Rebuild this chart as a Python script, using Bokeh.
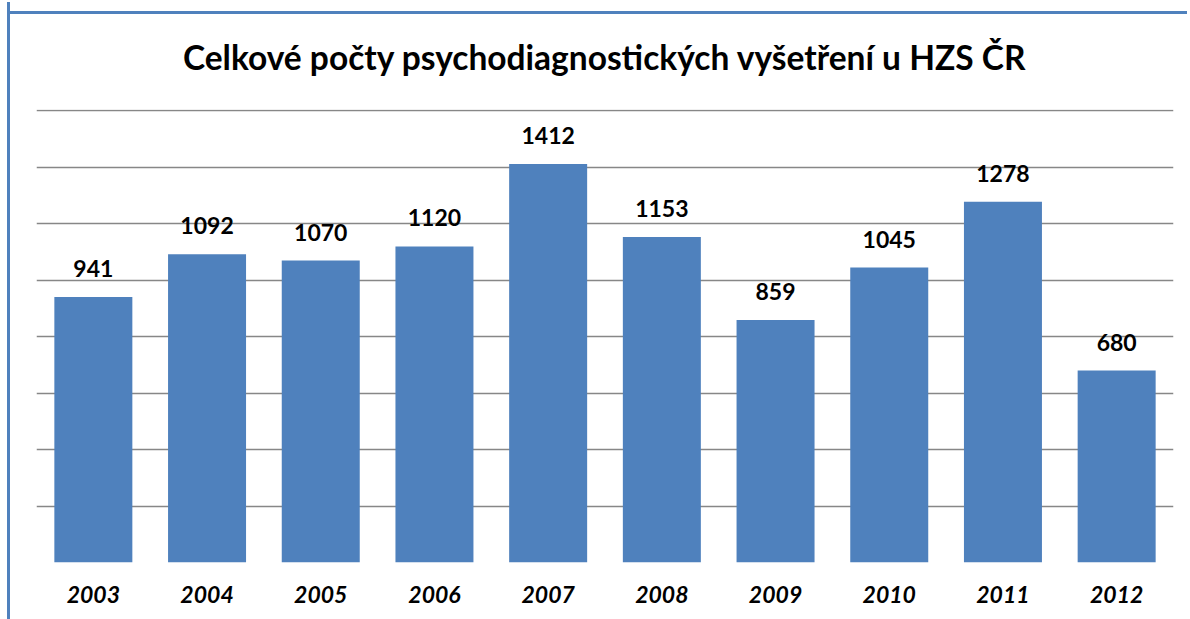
from bokeh.plotting import figure
from bokeh.models import ColumnDataSource, LabelSet, Range1d, FactorRange
from bokeh.core.properties import value
from bokeh.embed import file_html
from bokeh.resources import INLINE

years = ["2003", "2004", "2005", "2006", "2007", "2008", "2009", "2010", "2011", "2012"]
counts = [941, 1092, 1070, 1120, 1412, 1153, 859, 1045, 1278, 680]
title_text = "Celkové počty psychodiagnostických vyšetření u HZS ČR"
grid_values = [0, 200, 400, 600, 800, 1000, 1200, 1400, 1600]

BLUE = "#4F81BD"
FONT = "Lato"

src = ColumnDataSource(dict(year=years, value=counts, label=[str(v) for v in counts]))

p = figure(
    x_range=FactorRange(*years, range_padding=0),
    y_range=Range1d(0, 1605),
    width=1180, height=617,
    output_backend="svg", toolbar_location=None,
    min_border_left=26, min_border_right=17, min_border_top=100, min_border_bottom=57,
)
p.styles = {
    "border-left": f"3px solid {BLUE}",
    "margin-top": "2px", "margin-left": "7px",
    "background": f"linear-gradient({BLUE}, {BLUE}) 0 9px / 100% 3px no-repeat",
}
p.border_fill_color = None
p.background_fill_color = "white"

p.vbar(x="year", top="value", width=0.686, source=src, color=BLUE, line_color=None)

labels = LabelSet(x="year", y="value", text="label", source=src, y_offset=20,
                  text_align="center", text_baseline="alphabetic",
                  text_font=value(FONT), text_font_size=value("23px"),
                  text_font_style=value("bold"), text_color=value("black"))
p.add_layout(labels)

p.title.text = title_text
p.title.align = "center"
p.title.text_font = FONT
p.title.text_font_size = "33.5px"
p.title.text_font_style = "bold"
p.title.text_color = "black"
p.title.standoff = 65

p.outline_line_color = None
p.yaxis.visible = False
p.xaxis.axis_line_color = None
p.xaxis.major_tick_line_color = None
p.xaxis.minor_tick_line_color = None
p.xaxis.major_label_text_font = FONT
p.xaxis.major_label_text_font_size = "23px"
p.xaxis.major_label_text_font_style = "bold italic"
p.xaxis.major_label_text_color = "black"
p.xaxis.major_label_standoff = 17
p.xgrid.grid_line_color = None
p.ygrid.grid_line_color = "#878787"
p.ygrid.grid_line_width = 1.5
p.ygrid.ticker = grid_values

open("out.html", "w").write(file_html(p, INLINE))
